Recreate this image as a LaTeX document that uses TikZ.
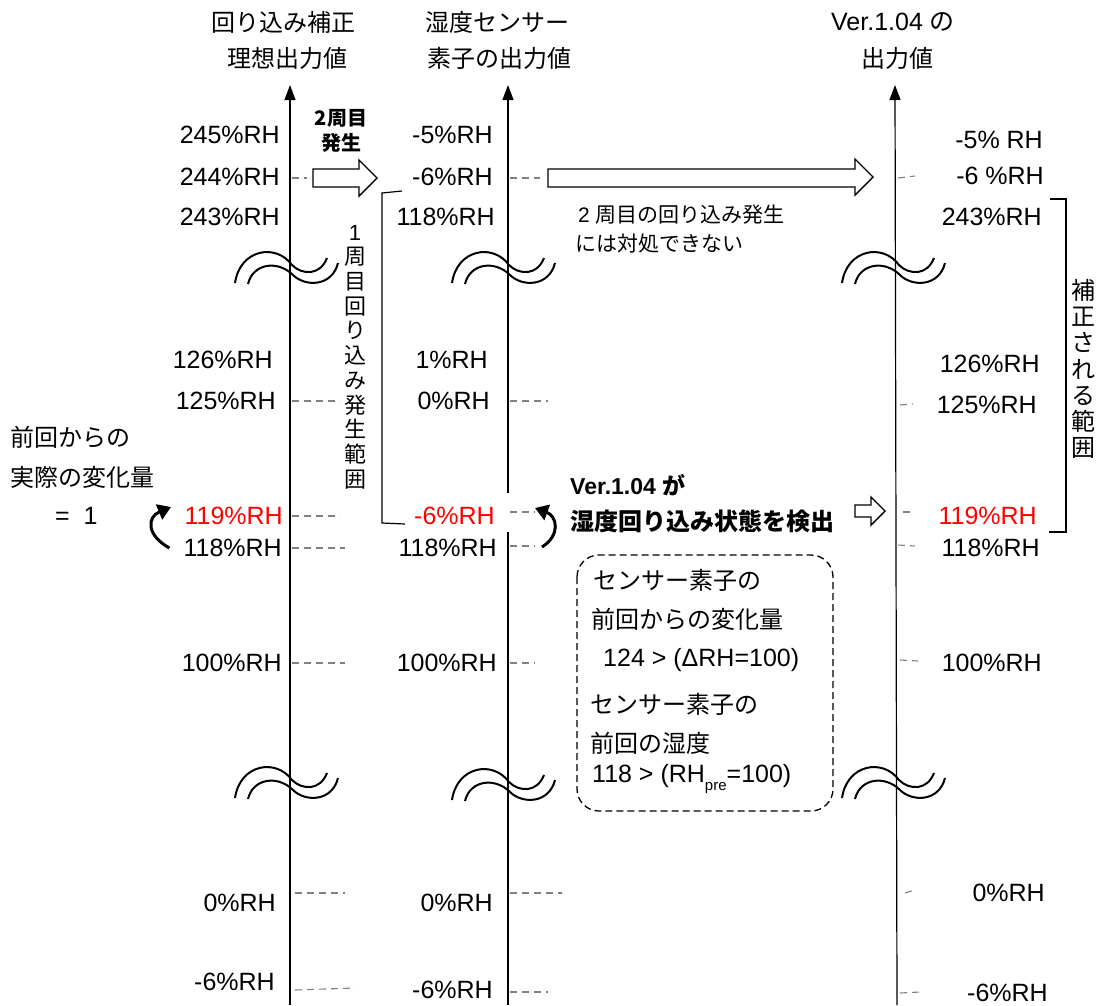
\documentclass[tikz,border=0pt]{standalone}
\usepackage{fontspec}
\setmainfont{Liberation Sans}
\newfontfamily\jp{Noto Sans CJK JP}
\usetikzlibrary{arrows.meta}
\newcommand\labfont{\fontsize{25}{30}\selectfont}
\newcommand\jpfont{\jp\fontsize{24}{30}\selectfont}
\begin{document}
\begin{tikzpicture}[x=1pt,y=-1pt,
  lab/.style={inner sep=0pt,font=\labfont},
  jlab/.style={inner sep=0pt,font=\jpfont},
  axis/.style={line width=1.2pt,-{Triangle[length=15pt,width=11pt]}},
  tick/.style={gray,line width=1.1pt,dash pattern=on 7pt off 5pt},
  wave/.style={line width=2pt},
  hollow/.style={draw,line width=1.4pt,fill=white},
  bracket/.style={line width=1.2pt},
  curvearr/.style={line width=3pt,-{Triangle[length=13pt,width=16pt]}},
  redtxt/.style={text=red}]
\useasboundingbox (0,0) rectangle (1098,1005);
% axes
\coordinate (Lb) at (290,1005); \coordinate (Lt) at (290,85);
\coordinate (Mb) at (508,1005); \coordinate (Mt) at (508,85);
\coordinate (Mg1) at (508,532); \coordinate (Mg2) at (508,493);
\coordinate (Rb) at (897,1005); \coordinate (Rt) at (895,85);
\draw[axis] (Lb) -- (Lt);
\draw[line width=1.2pt] (Mb) -- (Mg1);
\draw[axis] (Mg2) -- (Mt);
\draw[axis] (Rb) -- (Rt);
% titles
\node[jlab] (t1a) at (283,22) {回り込み補正};
\node[jlab] (t1b) at (287,58) {理想出力値};
\node[jlab] (t2a) at (497,22) {湿度センサー};
\node[jlab] (t2b) at (499,58) {素子の出力値};
\node[lab] (t3a) at (893,22) {Ver.1.04 {\jp の}};
\node[jlab] (t3b) at (897,58) {出力値};
% left labels
\node[lab,anchor=east] (l1) at (280,135) {245\%RH};
\node[lab,anchor=east] (l2) at (280,177) {244\%RH};
\node[lab,anchor=east] (l3) at (280,217) {243\%RH};
\node[lab,anchor=east] (l4) at (273,360) {126\%RH};
\node[lab,anchor=east] (l5) at (276,401) {125\%RH};
\node[lab,anchor=east,redtxt] (l6) at (283,516) {119\%RH};
\node[lab,anchor=east] (l7) at (282,548) {118\%RH};
\node[lab,anchor=east] (l8) at (282,663) {100\%RH};
\node[lab,anchor=east] (l9) at (276,903) {0\%RH};
\node[lab,anchor=east] (l10) at (275,982) {-6\%RH};
% middle labels
\node[lab,anchor=east] (m1) at (493,135) {-5\%RH};
\node[lab,anchor=east] (m2) at (493,177) {-6\%RH};
\node[lab,anchor=east] (m3) at (495,217) {118\%RH};
\node[lab,anchor=east] (m4) at (488,360) {1\%RH};
\node[lab,anchor=east] (m5) at (490,401) {0\%RH};
\node[lab,anchor=east,redtxt] (m6) at (495,516) {-6\%RH};
\node[lab,anchor=east] (m7) at (497,548) {118\%RH};
\node[lab,anchor=east] (m8) at (497,663) {100\%RH};
\node[lab,anchor=east] (m9) at (493,903) {0\%RH};
\node[lab,anchor=east] (m10) at (493,990) {-6\%RH};
% right labels
\node[lab,anchor=east] (r1) at (1043,140) {-5\% RH};
\node[lab,anchor=east] (r2) at (1044,176) {-6 \%RH};
\node[lab,anchor=east] (r3) at (1042,217) {243\%RH};
\node[lab,anchor=east] (r4) at (1040,364) {126\%RH};
\node[lab,anchor=east] (r5) at (1037,405) {125\%RH};
\node[lab,anchor=east,redtxt] (r6) at (1037,516) {119\%RH};
\node[lab,anchor=east] (r7) at (1040,548) {118\%RH};
\node[lab,anchor=east] (r8) at (1042,663) {100\%RH};
\node[lab,anchor=east] (r9) at (1045,893) {0\%RH};
\node[lab,anchor=east] (r10) at (1048,993) {-6\%RH};
% ticks
\foreach \a/\b in {{292,178}/{307,178},{292,401}/{340,401},{292,516}/{340,516},{292,548}/{345,548},{292,663}/{345,663},{295,893}/{345,893},{295,990}/{355,988},
  {510,178}/{540,178},{510,401}/{548,401},{510,512}/{535,512},{510,546}/{535,546},{510,663}/{535,663},{510,893}/{562,893},{510,992}/{548,992},
  {898,178}/{915,176},{900,405}/{913,404},{903,512}/{913,512},{898,545}/{915,546},{900,660}/{918,661},{905,893}/{915,890},{900,993}/{920,992}}
  \draw[tick] (\a) -- (\b);
% break waves
\foreach \cx/\cy in {290/265,507/265,897/265,290/780,507/782,897/780}{
  \begin{scope}[shift={(\cx,\cy)}]
    \draw[wave] (-55,18) .. controls (-50,-16) and (-14,-22) .. (2,0) .. controls (12,10) and (30,11) .. (37,-7);
    \draw[wave] (-42,19) .. controls (-37,-2) and (-12,-5) .. (3,10) .. controls (15,22) and (42,22) .. (48,-2);
  \end{scope}}
% hollow arrows
\draw[hollow] (313,169) -- (359,169) -- (359,160) -- (377,178) -- (359,196) -- (359,187) -- (313,187) -- cycle;
\draw[hollow] (548,169) -- (855,169) -- (855,159) -- (873,177) -- (855,195) -- (855,187) -- (548,187) -- cycle;
\draw[hollow] (855,505) -- (871,505) -- (871,497) -- (885,511) -- (871,525) -- (871,517) -- (855,517) -- cycle;
% 2周目発生
\node[inner sep=0pt,font=\jp\bfseries\fontsize{20}{24}\selectfont] (n2a) at (341,118) {2周目};
\node[inner sep=0pt,font=\jp\bfseries\fontsize{20}{24}\selectfont] (n2b) at (341,143) {発生};
% left bracket
\coordinate (b1) at (402,191); \coordinate (b2) at (382,193);
\coordinate (b3) at (382,523); \coordinate (b4) at (405,524);
\draw[bracket] (b1) -- (b2) -- (b3) -- (b4);
\node[inner sep=0pt,align=center,font=\jp\fontsize{22}{24.7}\selectfont] (v1) at (355,357)
  {{\rmfamily\fontspec{Liberation Sans}1}\\周\\目\\回\\り\\込\\み\\発\\生\\範\\囲};
% right bracket
\coordinate (c1) at (1050,199); \coordinate (c2) at (1066,199);
\coordinate (c3) at (1066,532); \coordinate (c4) at (1049,532);
\draw[bracket] (c1) -- (c2) -- (c3) -- (c4);
\node[inner sep=0pt,align=center,font=\jp\fontsize{24}{26.3}\selectfont] (v2) at (1083,369)
  {補\\正\\さ\\れ\\る\\範\\囲};
% note texts
\node[inner sep=0pt,anchor=west,font=\fontsize{21}{26}\selectfont] (n3a) at (578,215) {2 {\jp 周目の回り込み発生}};
\node[inner sep=0pt,anchor=west,font=\jp\fontsize{21}{26}\selectfont] (n3b) at (575,244) {には対処できない};
\node[inner sep=0pt,anchor=west,font=\bfseries\fontsize{23}{28}\selectfont] (n4a) at (570,485) {Ver.1.04 {\jp\bfseries が}};
\node[inner sep=0pt,anchor=west,font=\jp\bfseries\fontsize{24}{28}\selectfont] (n4b) at (570,521) {湿度回り込み状態を検出};
% left texts
\node[inner sep=0pt,anchor=west,font=\jpfont] (n5a) at (10,437) {前回からの};
\node[inner sep=0pt,anchor=west,font=\jpfont] (n5b) at (10,477) {実際の変化量};
\node[inner sep=0pt,anchor=west,font=\labfont] (n5c) at (55,516) {=\ \ 1};
% curved arrows
\draw[curvearr] (l7.west) ++(-14,0) coordinate (la0) .. controls (146,535) and (147,517) .. (171,507);
\draw[curvearr] (542,547) coordinate (ma0) .. controls (561,535) and (557,516) .. (535,508);
% dashed box
\draw[line width=1.3pt,dash pattern=on 7pt off 4pt,rounded corners=22pt] (577,555) rectangle (833,811);
\node[inner sep=0pt,anchor=west,font=\jpfont] (k1) at (593,580) {センサー素子の};
\node[inner sep=0pt,anchor=west,font=\jpfont] (k2) at (591,619) {前回からの変化量};
\node[inner sep=0pt,anchor=west,font=\labfont] (k3) at (603,660) {124 > (ΔRH=100)};
\node[inner sep=0pt,anchor=west,font=\jpfont] (k4) at (590,704) {センサー素子の};
\node[inner sep=0pt,anchor=west,font=\jpfont] (k5) at (590,743) {前回の湿度};
\node[inner sep=0pt,anchor=west,font=\labfont] (k6) at (592,779) {118 > (RH\raisebox{-0.32em}{\fontsize{15}{15}\selectfont pre}=100)};
\end{tikzpicture}
\end{document}
